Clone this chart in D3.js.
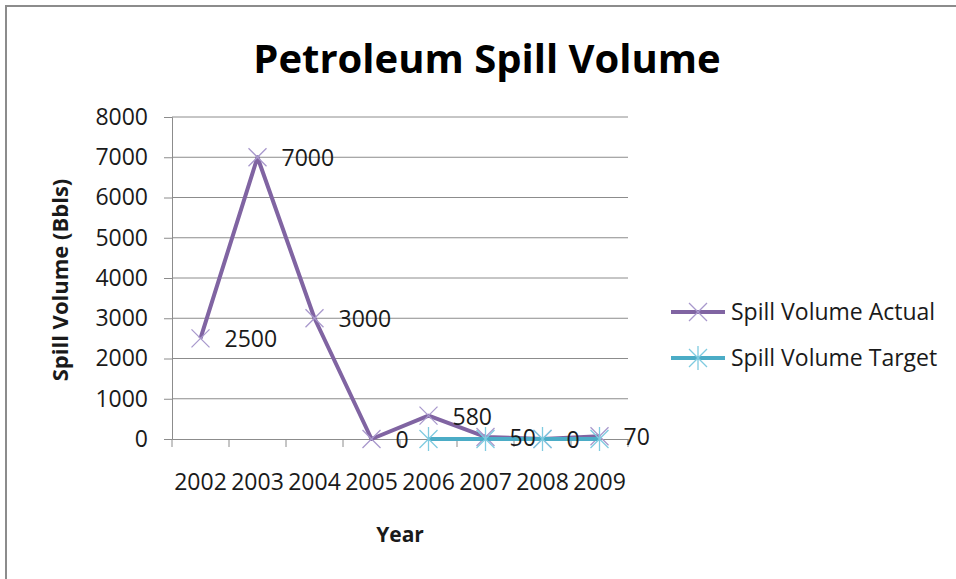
<!DOCTYPE html>
<html>
<head>
<meta charset="utf-8">
<script src="https://cdn.jsdelivr.net/npm/d3@7"></script>
<style>
  body { margin: 0; background: #fff; }
  text { font-family: "Open Sans", Lato, sans-serif; fill: #1a1a1a; }
</style>
</head>
<body>
<div id="chart"></div>
<script>
var years = ["2002", "2003", "2004", "2005", "2006", "2007", "2008", "2009"];
var actualValues = [2500, 7000, 3000, 0, 580, 50, 0, 70];
var targetYears = ["2006", "2007", "2008", "2009"];
var targetValues = [0, 0, 0, 0];
var yTicks = [0, 1000, 2000, 3000, 4000, 5000, 6000, 7000, 8000];

var W = 956, H = 579;
var margin = {top: 117, left: 172, right: 328, bottom: 140};
var width = W - margin.left - margin.right,
    height = H - margin.top - margin.bottom;
var fontFam = '"Open Sans", Lato, sans-serif';

var svg = d3.select("#chart").append("svg")
    .attr("width", W).attr("height", H);

// outer frame (only top & left edges visible)
svg.append("path")
    .attr("d", "M6,579 V6 H956")
    .attr("fill", "none").attr("stroke", "#8c8c8c").attr("stroke-width", 2);

svg.append("text")
    .attr("x", 487).attr("y", 73)
    .attr("text-anchor", "middle")
    .style("font-size", "40px").style("font-weight", "bold")
    .style("fill", "#000")
    .text("Petroleum Spill Volume");

var g = svg.append("g")
    .attr("transform", "translate(" + margin.left + "," + margin.top + ")");

var x = d3.scaleBand().domain(years).range([0, width]);
var y = d3.scaleLinear().domain([0, 8000]).range([height, 0]);

// gridlines
g.selectAll(".grid").data(yTicks.slice(1)).enter().append("line")
    .attr("x1", 0).attr("x2", width)
    .attr("y1", function(d) { return y(d); })
    .attr("y2", function(d) { return y(d); })
    .attr("stroke", "#8c8c8c").attr("stroke-width", 1);

// y axis
var yAxis = g.append("g")
    .call(d3.axisLeft(y).tickValues(yTicks).tickFormat(d3.format("d")).tickSize(8).tickPadding(16));
yAxis.select(".domain").attr("stroke", "#8c8c8c");
yAxis.selectAll(".tick line").attr("stroke", "#8c8c8c");
yAxis.selectAll("text").style("font-size", "23px").style("font-family", fontFam).attr("fill", "#1a1a1a");

// x axis
var xAxis = g.append("g")
    .attr("transform", "translate(0," + height + ")")
    .call(d3.axisBottom(x).tickSize(0).tickPadding(35));
xAxis.select(".domain").attr("stroke", "#8c8c8c");
xAxis.selectAll("text").style("font-size", "23px").style("font-family", fontFam).attr("fill", "#1a1a1a");
// category boundary ticks
g.selectAll(".xtick").data(years.concat(["end"])).enter().append("line")
    .attr("x1", function(d, i) { return i * x.step(); })
    .attr("x2", function(d, i) { return i * x.step(); })
    .attr("y1", height).attr("y2", height + 8)
    .attr("stroke", "#8c8c8c");

var cx = function(yr) { return x(yr) + x.bandwidth() / 2; };

var targetData = targetYears.map(function(yr, i) { return {yr: yr, v: targetValues[i]}; });
var actualData = years.map(function(yr, i) { return {yr: yr, v: actualValues[i]}; });

var line = d3.line()
    .x(function(d) { return cx(d.yr); })
    .y(function(d) { return y(d.v); });

g.append("path").datum(actualData)
    .attr("d", line).attr("fill", "none")
    .attr("stroke", "#8064a2").attr("stroke-width", 4).attr("stroke-linejoin", "round");

function crossMarker(sel, color) {
  sel.append("path")
    .attr("d", "M-9,-9L9,9M-9,9L9,-9")
    .attr("stroke", color).attr("stroke-width", 1.3).attr("fill", "none");
}
function starMarker(sel, color) {
  sel.append("path")
    .attr("d", "M-9,-9L9,9M-9,9L9,-9M0,-12V12")
    .attr("stroke", color).attr("stroke-width", 1.3).attr("fill", "none");
}

g.selectAll(".am").data(actualData).enter().append("g")
    .attr("transform", function(d) { return "translate(" + cx(d.yr) + "," + y(d.v) + ")"; })
    .call(crossMarker, "#a898cc");

g.append("path").datum(targetData)
    .attr("d", line).attr("fill", "none")
    .attr("stroke", "#4bacc6").attr("stroke-width", 4);

g.selectAll(".tm").data(targetData).enter().append("g")
    .attr("transform", function(d) { return "translate(" + cx(d.yr) + "," + y(d.v) + ")"; })
    .call(starMarker, "#7fcbe0");

// data labels
g.selectAll(".lbl").data(actualData).enter().append("text")
    .attr("x", function(d) { return cx(d.yr) + 24; })
    .attr("y", function(d) { return y(d.v) + 9; })
    .style("font-size", "23px")
    .text(function(d) { return d.v; });

// axis titles
svg.append("text")
    .attr("transform", "translate(68,280) rotate(-90)")
    .attr("text-anchor", "middle")
    .style("font-size", "22px").style("font-weight", "bold")
    .text("Spill Volume (Bbls)");

svg.append("text")
    .attr("x", 400).attr("y", 542)
    .attr("text-anchor", "middle")
    .style("font-size", "21px").style("font-weight", "bold")
    .text("Year");

// legend
var legend = [
  {name: "Spill Volume Actual", color: "#8064a2", mcolor: "#a898cc", marker: crossMarker, y: 312},
  {name: "Spill Volume Target", color: "#4bacc6", mcolor: "#7fcbe0", marker: starMarker, y: 358}
];
var lg = svg.selectAll(".leg").data(legend).enter().append("g")
    .attr("transform", function(d) { return "translate(671," + d.y + ")"; });
lg.append("line").attr("x1", 0).attr("x2", 54)
    .attr("stroke", function(d) { return d.color; }).attr("stroke-width", 4);
lg.each(function(d) {
  d3.select(this).append("g").attr("transform", "translate(27,0)").call(d.marker, d.mcolor);
});
lg.append("text").attr("x", 60).attr("y", 8)
    .style("font-size", "23px")
    .text(function(d) { return d.name; });
</script>
</body>
</html>
